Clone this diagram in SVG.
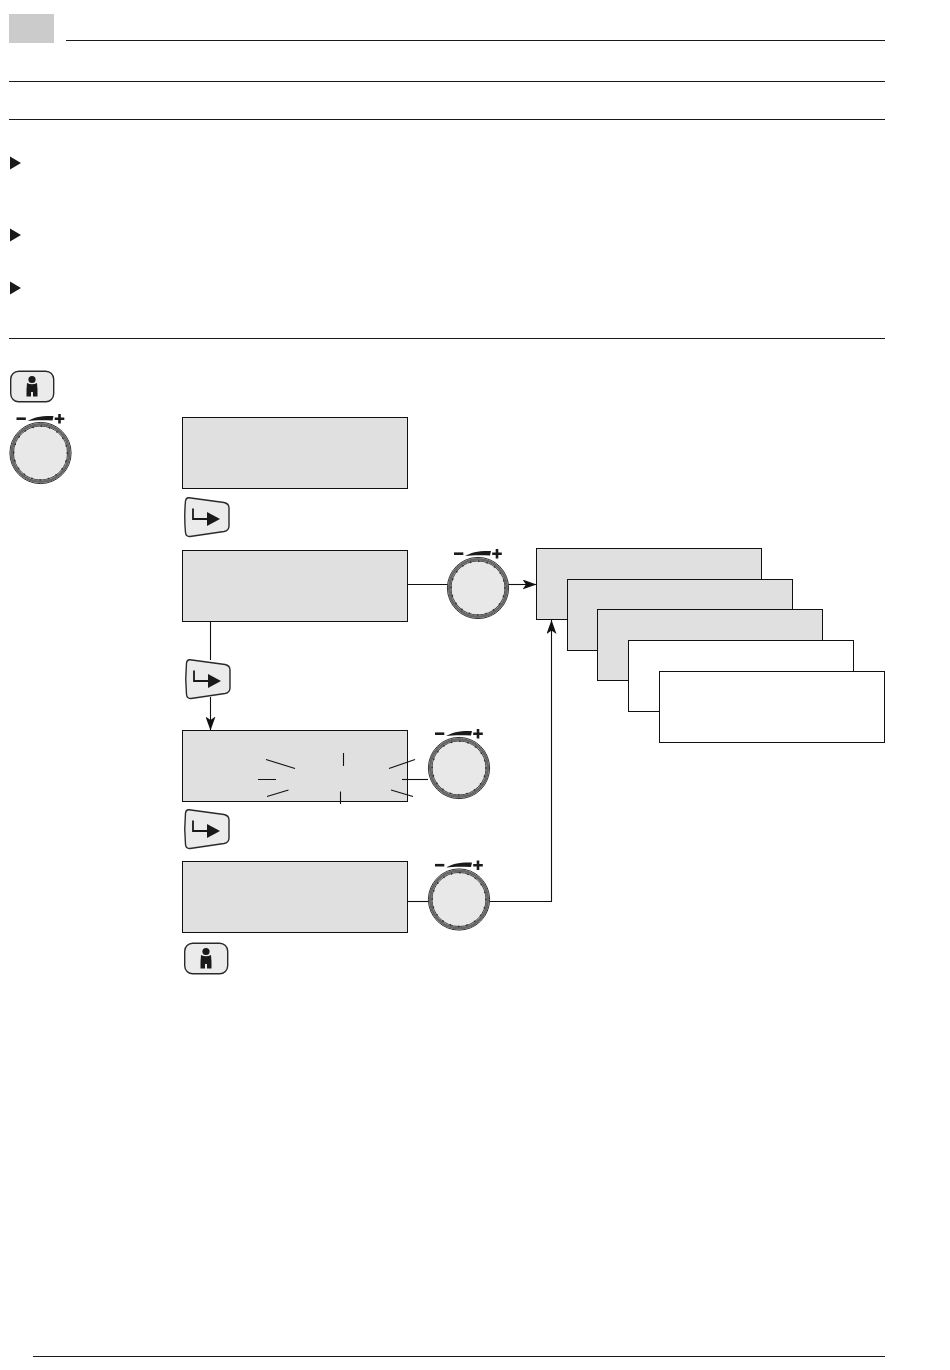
<svg xmlns="http://www.w3.org/2000/svg" width="950" height="1370" viewBox="0 0 950 1370">
<style>
.rule{stroke:#1a1a1a;stroke-width:1.1;fill:none}
.box{fill:#e0e0e0;stroke:#111;stroke-width:1}
.wbox{fill:#fff;stroke:#111;stroke-width:1}
.conn{stroke:#111;stroke-width:1.1;fill:none}
.dark{fill:#1a1a1a}
.btn{fill:#ebebeb;stroke:#2a2a2a;stroke-width:1.4}
</style>
<defs>
<symbol id="knob" overflow="visible" viewBox="-40 -40 80 80" width="80" height="80">
<circle r="30.600" fill="#e8e8e8" stroke="#333" stroke-width="1"/>
<circle r="28.800" fill="none" stroke="#666" stroke-width="2.600"/>
<circle r="27" fill="none" stroke="#333" stroke-width="0.900"/>
<circle r="26.800" fill="none" stroke="#333" stroke-width="1.800" stroke-linecap="round" stroke-dasharray="0 8.420"/>
<rect x="-24" y="-35.600" width="9.300" height="2.600" class="dark"/>
<path d="M-13-32C-7-35.500 0-37.300 13-37L12-32.500C3-33-6-33-13-32Z" class="dark"/>
<path d="M14.200-34.300H23.800M19-39V-29.600" stroke="#1a1a1a" stroke-width="2.600" fill="none"/>
</symbol>
<symbol id="person" overflow="visible" viewBox="0 0 44 32" width="44" height="32">
<rect x="0.700" y="0.700" width="43" height="30.600" rx="8" class="btn"/>
<circle cx="22" cy="9" r="3.600" class="dark"/>
<path d="M17 12.500Q22 15 27 12.500L27.500 19V26H23V21.500H21V26H16.500V19Z" class="dark"/>
</symbol>
<symbol id="enter" overflow="visible" viewBox="0 0 46 40" width="46" height="40">
<path d="M5 0.800L40 5.500Q45 6.500 45 11V29Q45 33.500 40 34.500L6 39.500Q2 39.800 1.500 35.500Q0 20 1.500 4Q2 0.500 5 0.800Z" class="btn"/>
<path d="M9 11.500V22H26" fill="none" stroke="#1a1a1a" stroke-width="1.800"/>
<path d="M23 15L36 22L23 29Z" class="dark"/>
</symbol>
<marker id="arrow" markerUnits="userSpaceOnUse" markerWidth="15" markerHeight="10" refX="14" refY="5" orient="auto">
<path d="M0 0L14 5L0 10L3.500 5Z" fill="#111"/>
</marker>
</defs>

<g id="header">
<rect x="9" y="14" width="45" height="29" fill="#cbcbcb"/>
<path class="rule" d="M66 40.500H885M9 81.500H885M9 119.500H885M9 338.500H885M33 1356.500H885"/>
</g>
<g id="bullets">
<path class="dark" d="M10 156.500L21 163L10 169.500Z"/>
<path class="dark" d="M10 228.500L21 235L10 241.500Z"/>
<path class="dark" d="M10 281.500L21 288L10 294.500Z"/>
</g>

<g id="display-1"><rect class="box" x="182.500" y="417.500" width="225" height="71"/></g>
<g id="display-2"><rect class="box" x="182.500" y="550.500" width="225" height="71"/></g>
<g id="display-3">
<rect class="box" x="182.500" y="730.500" width="225" height="71"/>
<path class="conn" d="M266 759.500L295 768.500M258 779.500H276M267 796.500L288.500 790M343.500 753V766M340.500 791.500V804M389 768.500L415 759.500M391 790L413 796.500"/>
</g>
<g id="display-4"><rect class="box" x="182.500" y="861.500" width="225" height="71"/></g>

<g id="stack-1"><rect class="box" x="536.500" y="548.500" width="225" height="71"/></g>
<g id="stack-2"><rect class="box" x="567.500" y="579.500" width="225" height="71"/></g>
<g id="stack-3"><rect class="box" x="597.500" y="609.500" width="225" height="71"/></g>
<g id="stack-4"><rect class="wbox" x="628.500" y="640.500" width="225" height="71"/></g>
<g id="stack-5"><rect class="wbox" x="659.500" y="671.500" width="225" height="71"/></g>

<g id="connectors">
<path class="conn" d="M407.500 584.500H448"/>
<path class="conn" d="M508 584.500H536.500" marker-end="url(#arrow)"/>
<path class="conn" d="M210.500 621.500V660M210.500 697V730.500" marker-end="url(#arrow)"/>
<path class="conn" d="M402 779.500H428"/>
<path class="conn" d="M407.500 901.500H428"/>
<path class="conn" d="M490 901.500H551.500V620" marker-end="url(#arrow)"/>
</g>

<g id="person-1"><use href="#person" x="10" y="370.500"/></g>
<g id="person-2"><use href="#person" x="184" y="942.500"/></g>
<g id="enter-1"><use href="#enter" x="184" y="497"/></g>
<g id="enter-2"><use href="#enter" x="185" y="659"/></g>
<g id="enter-3"><use href="#enter" x="184" y="809"/></g>
<g id="knob-1"><use href="#knob" x="0.500" y="413"/></g>
<g id="knob-2"><use href="#knob" x="438" y="548"/></g>
<g id="knob-3"><use href="#knob" x="419" y="728"/></g>
<g id="knob-4"><use href="#knob" x="419" y="859.500"/></g>
</svg>
